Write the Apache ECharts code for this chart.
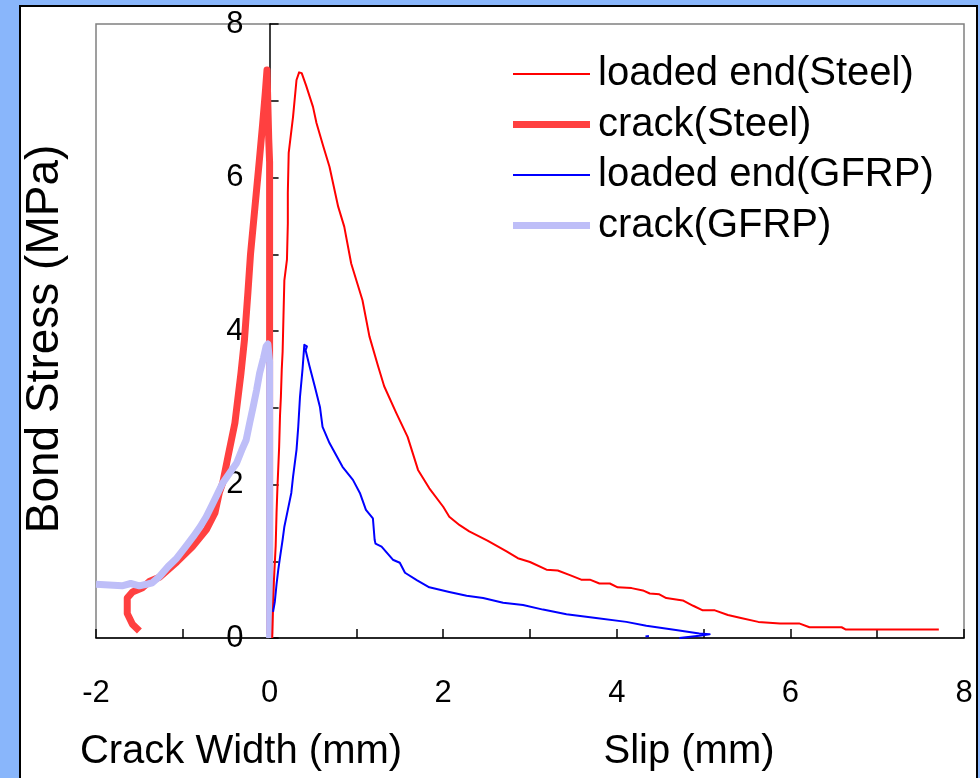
<!DOCTYPE html>
<html>
<head>
<meta charset="utf-8">
<script src="https://cdn.jsdelivr.net/npm/echarts@6/dist/echarts.min.js"></script>
<style>
  html, body { margin: 0; padding: 0; background: #89B6FB; }
  #wrap { position: relative; width: 980px; height: 778px; overflow: hidden; }
  #panel { position: absolute; left: 19px; top: 5px; width: 955px; height: 800px;
           background: #ffffff; border: 2px solid #000000; }
  #chart { position: absolute; left: 0; top: 0; width: 980px; height: 778px; }
</style>
</head>
<body>
<div id="wrap">
  <div id="panel"></div>
  <div id="chart"></div>
</div>
<script>
// Tick labels shown on each axis (ticks every 1 unit, labels every 2)
const xTickLabels = [-2, 0, 2, 4, 6, 8];
const yTickLabels = [0, 2, 4, 6, 8];

// Series names
const seriesNames = ['loaded end(Steel)', 'crack(Steel)', 'loaded end(GFRP)', 'crack(GFRP)'];

// Slip at the loaded end, steel bar: [slip (mm), bond stress (MPa)]
const loadedEndSteel = [
  [0.03, 0.00], [0.04, 0.40], [0.05, 0.75], [0.07, 1.20], [0.08, 1.63], [0.09, 1.95],
  [0.11, 2.49], [0.12, 2.90], [0.13, 3.14], [0.14, 3.50], [0.15, 3.73], [0.16, 4.20],
  [0.17, 4.66], [0.20, 4.93], [0.21, 5.40], [0.21, 5.80], [0.22, 6.32], [0.27, 6.79],
  [0.31, 7.27], [0.34, 7.37], [0.37, 7.36], [0.42, 7.20], [0.50, 6.92], [0.54, 6.71],
  [0.62, 6.40], [0.69, 6.14], [0.79, 5.62], [0.86, 5.36], [0.94, 4.88], [1.07, 4.40],
  [1.15, 3.93], [1.25, 3.54], [1.32, 3.28], [1.46, 2.93], [1.59, 2.62], [1.71, 2.19],
  [1.84, 1.95], [2.00, 1.71], [2.07, 1.58], [2.19, 1.47], [2.30, 1.39], [2.51, 1.27],
  [2.73, 1.13], [2.86, 1.04], [3.00, 0.99], [3.19, 0.89], [3.32, 0.88], [3.46, 0.82],
  [3.59, 0.76], [3.69, 0.76], [3.80, 0.71], [3.92, 0.71], [4.01, 0.66], [4.17, 0.65],
  [4.30, 0.62], [4.38, 0.58], [4.49, 0.57], [4.57, 0.52], [4.76, 0.49], [4.88, 0.42],
  [4.99, 0.36], [5.13, 0.36], [5.28, 0.30], [5.43, 0.26], [5.63, 0.21], [5.88, 0.19],
  [6.10, 0.19], [6.22, 0.14], [6.59, 0.14], [6.64, 0.11], [7.71, 0.11]
];

// Crack width, steel bar (plotted on the negative side): [-(crack width), bond stress]
const crackSteel = [
  [-1.50, 0.09], [-1.58, 0.18], [-1.64, 0.32], [-1.64, 0.52], [-1.58, 0.60], [-1.47, 0.65],
  [-1.38, 0.74], [-1.27, 0.79], [-1.07, 0.99], [-0.89, 1.19], [-0.73, 1.41], [-0.63, 1.63],
  [-0.58, 1.89], [-0.54, 2.02], [-0.48, 2.36], [-0.40, 2.80], [-0.33, 3.45], [-0.29, 3.88],
  [-0.25, 4.50], [-0.22, 5.00], [-0.17, 5.60], [-0.12, 6.20], [-0.08, 6.70], [-0.05, 7.10],
  [-0.03, 7.40], [-0.01, 6.50], [0.00, 6.20], [0.00, 3.90], [0.00, 0.05]
];

// Slip at the loaded end, GFRP bar
const loadedEndGFRP = [
  [0.04, 0.34], [0.06, 0.47], [0.08, 0.70], [0.10, 0.89], [0.12, 1.05], [0.15, 1.28],
  [0.17, 1.45], [0.21, 1.67], [0.25, 1.89], [0.27, 2.10], [0.31, 2.45], [0.33, 2.75],
  [0.35, 3.14], [0.38, 3.51], [0.40, 3.82], [0.43, 3.80], [0.415, 3.75], [0.46, 3.54],
  [0.52, 3.28], [0.58, 3.01], [0.61, 2.75], [0.69, 2.54], [0.84, 2.23], [0.96, 2.06],
  [1.04, 1.89], [1.11, 1.67], [1.19, 1.56], [1.21, 1.28], [1.22, 1.23], [1.29, 1.19],
  [1.42, 1.02], [1.50, 0.98], [1.56, 0.85], [1.70, 0.75], [1.84, 0.66], [2.07, 0.60],
  [2.27, 0.55], [2.46, 0.52], [2.69, 0.46], [2.92, 0.43], [3.15, 0.37], [3.42, 0.31],
  [3.76, 0.26], [4.11, 0.21], [4.34, 0.16], [4.68, 0.105], [4.95, 0.06], [5.07, 0.05],
  [4.95, 0.03], [4.72, 0.00], ['-', '-'], [4.33, 0.02], [4.37, 0.025]
];

// Crack width, GFRP bar
const crackGFRP = [
  [-2.00, 0.70], [-1.85, 0.69], [-1.70, 0.68], [-1.60, 0.71], [-1.50, 0.68], [-1.42, 0.70],
  [-1.35, 0.72], [-1.27, 0.80], [-1.17, 0.93], [-1.07, 1.04], [-0.98, 1.17], [-0.88, 1.32],
  [-0.80, 1.45], [-0.73, 1.58], [-0.66, 1.74], [-0.60, 1.88], [-0.54, 2.02], [-0.46, 2.15],
  [-0.38, 2.28], [-0.32, 2.45], [-0.27, 2.58], [-0.23, 2.80], [-0.19, 3.01], [-0.15, 3.23],
  [-0.115, 3.45], [-0.07, 3.65], [-0.04, 3.80], [-0.02, 3.83], [0.00, 3.60], [0.00, 0.00]
];

const FONT = '"Liberation Sans", Arial, sans-serif';
const GRID_LEFT = 96;
const GRID_RIGHT = 16;
const CHART_W = 980;

const chart = echarts.init(document.getElementById('chart'), null, { renderer: 'canvas' });

// Horizontal position of x = 0 inside the plotting area, used to park the y axis there
const plotW = CHART_W - GRID_LEFT - GRID_RIGHT;
const xMin = -2, xMax = 8;
const yAxisShift = plotW * (0 - xMin) / (xMax - xMin);

function lineSeries(name, data, color, width, z) {
  return {
    name: name,
    type: 'line',
    data: data,
    symbol: 'none',
    showSymbol: false,
    smooth: false,
    connectNulls: false,
    z: z,
    lineStyle: { color: color, width: width, join: 'round', cap: 'butt' },
    itemStyle: { color: color },
    emphasis: { disabled: true },
    animation: false
  };
}

// Legend swatches: plain bars whose thickness follows each series' line width
function bar(h) { return 'path://M0,0H77V' + h + 'H0Z'; }

chart.setOption({
  backgroundColor: 'transparent',
  animation: false,
  grid: {
    left: GRID_LEFT, top: 24, right: GRID_RIGHT, bottom: 140,
    show: true, borderColor: '#808080', borderWidth: 1.5, backgroundColor: 'transparent'
  },
  legend: {
    data: [
      { name: seriesNames[0], icon: bar(2) },
      { name: seriesNames[1], icon: bar(7) },
      { name: seriesNames[2], icon: bar(2) },
      { name: seriesNames[3], icon: bar(7) }
    ],
    orient: 'vertical',
    left: 513, top: 54,
    padding: 0,
    itemWidth: 77, itemHeight: 14,
    itemGap: 10.5,
    symbolKeepAspect: true,
    selectedMode: false,
    textStyle: { fontFamily: FONT, fontSize: 40, lineHeight: 40, color: '#000', padding: [0, 0, 0, 3] }
  },
  xAxis: {
    type: 'value', min: xMin, max: xMax, interval: 1,
    axisLine: { onZero: false, lineStyle: { color: '#000', width: 1.5 } },
    axisTick: { show: true, inside: true, length: 9, lineStyle: { color: '#000', width: 1.5 } },
    axisLabel: {
      margin: 40, fontFamily: FONT, fontSize: 31, color: '#000',
      formatter: v => (xTickLabels.indexOf(v) >= 0 ? String(v) : '')
    },
    splitLine: { show: false }
  },
  yAxis: {
    type: 'value', min: 0, max: 8, interval: 1,
    offset: -yAxisShift,
    axisLine: { show: true, onZero: false, lineStyle: { color: '#000', width: 1.5 } },
    axisTick: { show: true, inside: true, length: 9, lineStyle: { color: '#000', width: 1.5 } },
    axisLabel: {
      margin: 26, fontFamily: FONT, fontSize: 31, color: '#000',
      formatter: v => (yTickLabels.indexOf(v) >= 0 ? String(v) : '')
    },
    splitLine: { show: false }
  },
  graphic: [
    {
      type: 'text', x: 45, y: 339, rotation: Math.PI / 2,
      style: { text: 'Bond Stress (MPa)', fontFamily: FONT, fontSize: 46, fill: '#000',
               align: 'center', verticalAlign: 'middle' }
    },
    {
      type: 'text', x: 241, y: 752,
      style: { text: 'Crack Width (mm)', fontFamily: FONT, fontSize: 40, fill: '#000',
               align: 'center', verticalAlign: 'middle' }
    },
    {
      type: 'text', x: 689, y: 752,
      style: { text: 'Slip (mm)', fontFamily: FONT, fontSize: 40, fill: '#000',
               align: 'center', verticalAlign: 'middle' }
    }
  ],
  series: [
    lineSeries(seriesNames[0], loadedEndSteel, '#FF0000', 2, 4),
    lineSeries(seriesNames[1], crackSteel, '#FF4040', 7, 2),
    lineSeries(seriesNames[2], loadedEndGFRP, '#0000FF', 2, 5),
    lineSeries(seriesNames[3], crackGFRP, '#BEBEF8', 7, 3)
  ]
});
</script>
</body>
</html>
